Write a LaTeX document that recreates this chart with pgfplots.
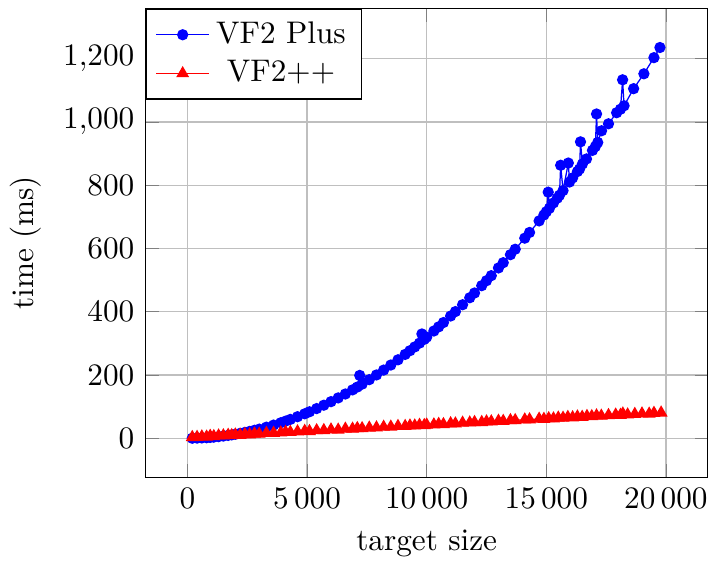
\documentclass[border=0pt]{standalone}
\usepackage{pgfplots}
\pgfplotsset{compat=1.18}
\begin{document}
\begin{tikzpicture}[trim axis right]
\begin{axis}[
  scale only axis,
  width=180pt, height=150pt,
  xlabel={target size},
  ylabel={time (ms)},
  grid=major,
  scaled x ticks=false,
  xtick={0,5000,10000,15000,20000},
  ytick={0,200,400,600,800,1000,1200},
  x tick label style={/pgf/number format/1000 sep={\,}},
  legend style={at={(0,1)},anchor=north west},
]
\addplot[blue, mark=*, mark size=1.6pt] coordinates {
(200,0.5) (400,1) (600,1.5) (800,2.1) (950,3.0) (1100,4.0) (1300,5.6) (1500,7.4)
(1700,9.5) (1850,11.2) (2000,13.1) (2200,15.9) (2400,18.9) (2600,22.1) (2800,25.6)
(3000,29.3) (3300,35.5) (3600,42.1) (3900,49.4) (4100,54.5) (4300,60.0) (4600,68.5)
(4900,77.7) (5100,84.1) (5400,94.2) (5700,104.9) (6000,116.1) (6300,127.9) (6600,140.3)
(6900,153.3) (7100,162.2) (7200,199) (7300,171.4) (7600,185.6) (7900,200.5) (8200,215.8)
(8500,231.8) (8800,248.3) (9100,265.4) (9300,277.1) (9500,289) (9700,301) (9800,330)
(9900,313) (10000,320) (10300,339.3) (10500,352.4) (10700,366) (11000,386.6) (11200,400.6)
(11500,422.3) (11800,444.4) (12000,459.4) (12300,482.5) (12500,498.2) (12700,514.1)
(13000,538.5) (13200,555.1) (13500,580.4) (13700,597.6) (14100,632.7) (14300,650.7)
(14700,687.2) (14900,705.9) (15000,716) (15080,778) (15130,727) (15300,744) (15460,759)
(15550,768) (15600,863) (15700,783) (15920,870) (15970,810) (16100,823) (16300,843)
(16390,851) (16430,937) (16510,867) (16680,883) (16930,910) (17050,922) (17100,1025)
(17150,935) (17310,972) (17600,994) (17940,1029) (18100,1040) (18190,1133) (18250,1051)
(18650,1105) (19080,1152) (19500,1203) (19750,1235)
};
\addlegendentry{VF2 Plus}
\addplot[red, mark=triangle*, mark size=2pt] coordinates {
(200,3.5) (400,4) (600,5.5) (800,5) (950,7.5) (1100,6.5) (1300,8.5) (1500,9)
(1700,10.5) (1850,9.5) (2000,11.5) (2200,10.5) (2400,13) (2600,12) (2800,14.5)
(3000,14) (3300,16.5) (3600,17) (3900,18) (4100,20) (4300,19.5) (4600,21.5)
(4900,23) (5100,22.5) (5400,25) (5700,25.5) (6000,27.5) (6300,27) (6600,30)
(6900,30) (7100,32) (7300,31.5) (7600,33.5) (7900,34) (8200,36) (8500,36.5)
(8800,38.5) (9100,38.5) (9300,40) (9500,40) (9700,42) (9900,41.5) (10000,43)
(10300,43.5) (10500,45) (10700,44.5) (11000,47) (11200,46.5) (11500,49) (11800,49.5)
(12000,51) (12300,51) (12500,53) (12700,53) (13000,55) (13200,54.5) (13500,57)
(13700,57) (14100,59) (14300,59.5) (14700,61.5) (14900,61) (15100,63) (15300,62.5)
(15500,65) (15700,64.5) (15900,67) (16100,66) (16300,68.5) (16500,67.5) (16700,70)
(16900,69.5) (17100,72) (17300,71) (17600,73) (17900,74.5) (18100,73.5) (18200,78)
(18400,75) (18700,76.5) (19000,78) (19300,77.5) (19500,80) (19800,81)
};
\addlegendentry{VF2++}
\end{axis}
\path (current axis.east) ++(0.7pt,0);
\path (current axis.north) ++(0,2.7pt);
\end{tikzpicture}
\end{document}
